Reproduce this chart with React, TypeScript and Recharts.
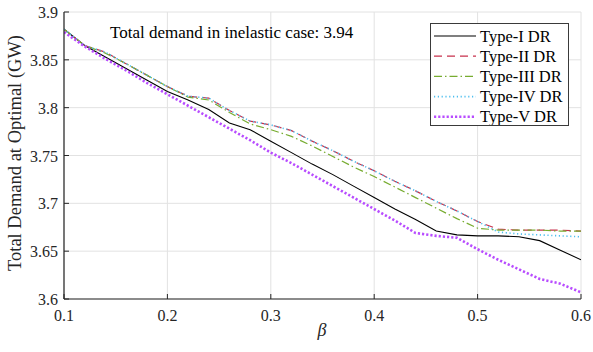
import React from 'react';
import {
  LineChart,
  Line,
  XAxis,
  YAxis,
  CartesianGrid,
  Legend,
  Customized,
} from 'recharts';

// Price-elasticity coefficient beta on the horizontal axis
const beta = [
  0.1, 0.12, 0.14, 0.16, 0.18, 0.2, 0.22, 0.24, 0.26, 0.28, 0.3, 0.32, 0.34,
  0.36, 0.38, 0.4, 0.42, 0.44, 0.46, 0.48, 0.5, 0.52, 0.54, 0.56, 0.58, 0.6,
];

// Total optimal demand (GW) for each demand-response type
const typeI = [
  3.882, 3.865, 3.853, 3.841, 3.829, 3.817, 3.808, 3.798, 3.784, 3.777, 3.765,
  3.753, 3.741, 3.73, 3.718, 3.706, 3.694, 3.683, 3.671, 3.667, 3.666, 3.666,
  3.665, 3.661, 3.651, 3.641,
];
const typeII = [
  3.882, 3.865, 3.858, 3.846, 3.834, 3.822, 3.812, 3.81, 3.797, 3.786, 3.782,
  3.776, 3.765, 3.755, 3.744, 3.734, 3.723, 3.713, 3.702, 3.692, 3.681, 3.673,
  3.672, 3.672, 3.672, 3.671,
];
const typeIII = [
  3.882, 3.865, 3.857, 3.846, 3.834, 3.822, 3.811, 3.808, 3.795, 3.783, 3.777,
  3.77, 3.76, 3.749, 3.738, 3.728, 3.717, 3.706, 3.695, 3.684, 3.674, 3.672,
  3.672, 3.672, 3.671, 3.671,
];
const typeIV = [
  3.882, 3.865, 3.858, 3.846, 3.834, 3.822, 3.812, 3.81, 3.797, 3.786, 3.782,
  3.776, 3.765, 3.755, 3.744, 3.734, 3.723, 3.713, 3.702, 3.692, 3.681, 3.67,
  3.668, 3.667, 3.666, 3.665,
];
const typeV = [
  3.879, 3.864, 3.851, 3.839, 3.826, 3.814, 3.802, 3.79, 3.778, 3.766, 3.753,
  3.742, 3.73, 3.718, 3.706, 3.694, 3.682, 3.669, 3.666, 3.664, 3.652, 3.641,
  3.631, 3.621, 3.616, 3.607,
];

const xTicks = [0.1, 0.2, 0.3, 0.4, 0.5, 0.6];
const yTicks = [3.6, 3.65, 3.7, 3.75, 3.8, 3.85, 3.9];

const seriesNames = ['Type-I DR', 'Type-II DR', 'Type-III DR', 'Type-IV DR', 'Type-V DR'];
const inelasticNote = 'Total demand in inelastic case: 3.94';
const yTitle = 'Total Demand at Optimal (GW)';
const xTitle = 'β';

const FONT = '"Liberation Serif", "Times New Roman", serif';
const AXIS = '#262626';

const series = [
  { key: 'typeI', name: seriesNames[0], color: '#000000', width: 1.1, dash: undefined },
  { key: 'typeII', name: seriesNames[1], color: '#c8314c', width: 1.2, dash: '8 5' },
  { key: 'typeIII', name: seriesNames[2], color: '#77ac30', width: 1.2, dash: '8 3 1.5 3' },
  { key: 'typeIV', name: seriesNames[3], color: '#4dbeee', width: 1.6, dash: '1.2 2.6' },
  { key: 'typeV', name: seriesNames[4], color: '#b84cff', width: 2.6, dash: '2.2 2' },
];

const data = beta.map((b, i) => ({
  beta: b,
  typeI: typeI[i],
  typeII: typeII[i],
  typeIII: typeIII[i],
  typeIV: typeIV[i],
  typeV: typeV[i],
}));

const XTick = (props: any) => {
  const { x, y, payload } = props;
  return (
    <g>
      <line x1={x} y1={y} x2={x} y2={y - 5} stroke={AXIS} strokeWidth={1} />
      <text x={x} y={y + 22} textAnchor="middle" fontFamily={FONT} fontSize={16} fill="#262626">
        {String(payload.value)}
      </text>
    </g>
  );
};

const YTick = (props: any) => {
  const { x, y, payload } = props;
  return (
    <g>
      <line x1={x} y1={y} x2={x + 5} y2={y} stroke={AXIS} strokeWidth={1} />
      <text x={x - 6} y={y + 6} textAnchor="end" fontFamily={FONT} fontSize={16} fill="#262626">
        {String(payload.value)}
      </text>
    </g>
  );
};

const LegendBox = () => (
  <div
    style={{
      width: 137,
      height: 101,
      border: '1px solid #3a3a3a',
      background: '#ffffff',
    }}
  >
    <svg width={137} height={101}>
      {series.map((s, i) => {
        const cy = 12 + i * 20.2;
        return (
          <g key={s.key}>
            <line
              x1={3}
              x2={45}
              y1={cy}
              y2={cy}
              stroke={s.color}
              strokeWidth={s.width}
              strokeDasharray={s.dash}
            />
            <text x={49} y={cy + 5.5} fontFamily={FONT} fontSize={16.5} fill="#000">
              {s.name}
            </text>
          </g>
        );
      })}
    </svg>
  </div>
);

const Annotations = () => (
  <g>
    <text x={110} y={38} fontFamily={FONT} fontSize={17} fill="#000">
      {inelasticNote}
    </text>
    <text
      transform="translate(21,153) rotate(-90)"
      textAnchor="middle"
      fontFamily={FONT}
      fontSize={18.5}
      fill="#262626"
    >
      {yTitle}
    </text>
    <text
      x={322}
      y={336}
      textAnchor="middle"
      fontFamily={FONT}
      fontStyle="italic"
      fontSize={18}
      fill="#262626"
    >
      {xTitle}
    </text>
  </g>
);

export default function App() {
  return (
    <div style={{ position: 'absolute', left: 0, top: 0, width: 593, height: 352, background: '#fff' }}>
      <LineChart
        width={593}
        height={352}
        data={data}
        margin={{ top: 12, right: 12, bottom: 0, left: 0 }}
      >
        <CartesianGrid stroke="#e2e2e2" strokeWidth={1} />
        <XAxis
          dataKey="beta"
          type="number"
          domain={[0.1, 0.6]}
          ticks={xTicks}
          interval={0}
          height={53}
          tickSize={0}
          tickMargin={0}
          tick={<XTick />}
          axisLine={{ stroke: AXIS, strokeWidth: 1.2 }}
          tickLine={false}
          allowDataOverflow
        />
        <YAxis
          type="number"
          domain={[3.6, 3.9]}
          ticks={yTicks}
          interval={0}
          width={64}
          tickSize={0}
          tickMargin={0}
          tick={<YTick />}
          axisLine={{ stroke: AXIS, strokeWidth: 1.2 }}
          tickLine={false}
          allowDataOverflow
        />
        {series.map((s) => (
          <Line
            key={s.key}
            dataKey={s.key}
            name={s.name}
            type="linear"
            stroke={s.color}
            strokeWidth={s.width}
            strokeDasharray={s.dash}
            dot={false}
            activeDot={false}
            isAnimationActive={false}
          />
        ))}
        <Legend
          layout="horizontal"
          verticalAlign="middle"
          align="center"
          content={<LegendBox />}
          wrapperStyle={{ position: 'absolute', left: 430, top: 23, width: 139, height: 103 }}
        />
        <Customized component={<Annotations />} />
      </LineChart>
    </div>
  );
}
